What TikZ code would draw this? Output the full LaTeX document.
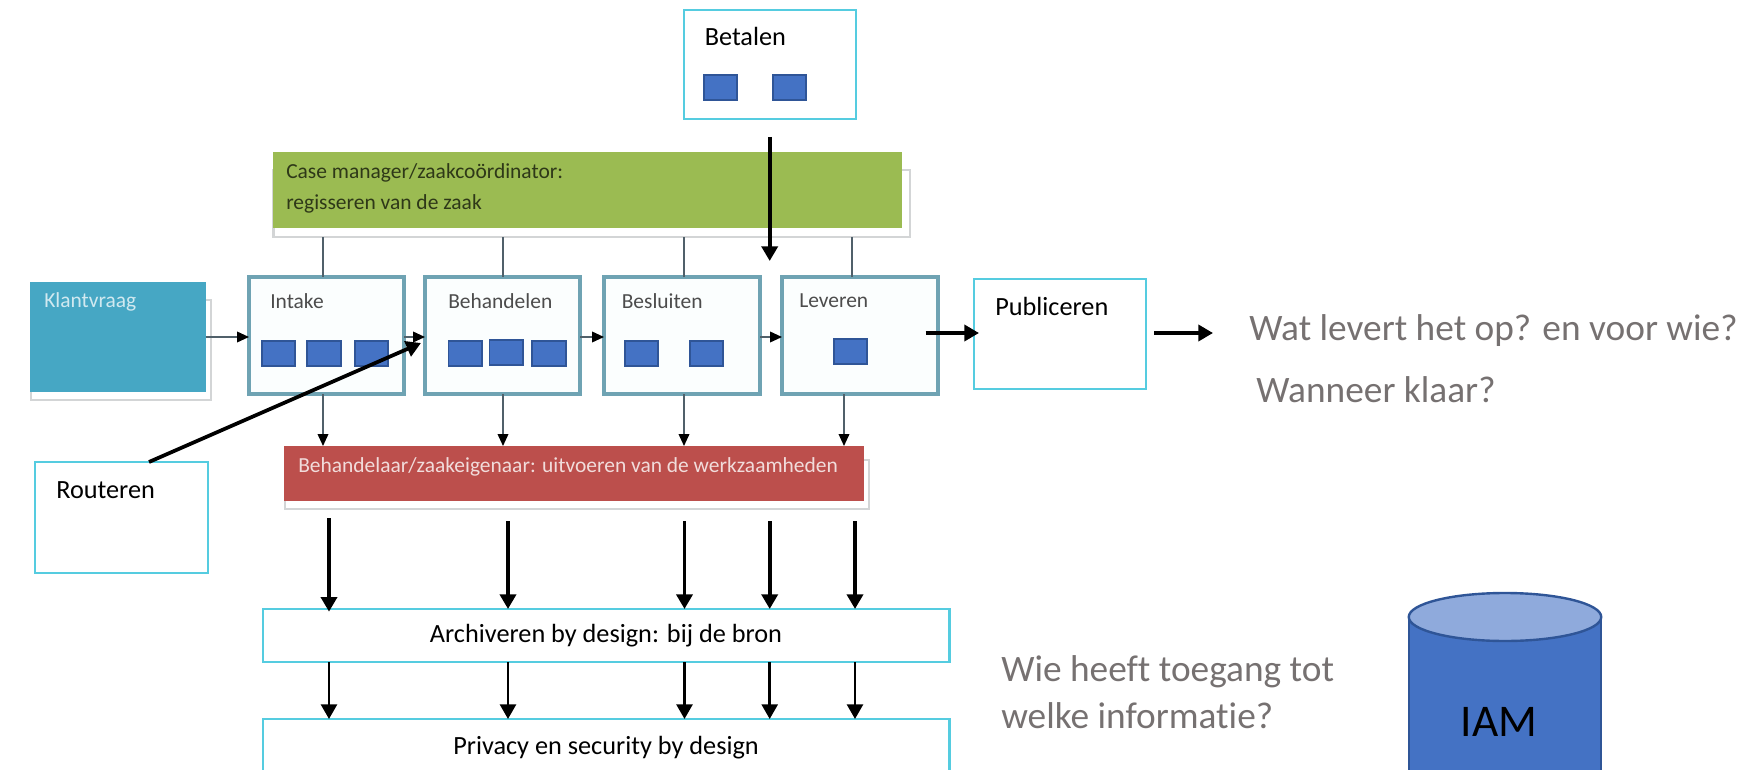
\documentclass[tikz,border=0pt]{standalone}
\usepackage{fontspec}
\setmainfont{Carlito}[Ligatures=NoCommon]
\usetikzlibrary{arrows.meta,fit}
\definecolor{cyanline}{HTML}{55CCE0}
\definecolor{sqblue}{HTML}{4472C4}
\definecolor{sqline}{HTML}{2F5597}
\definecolor{teal}{HTML}{6FA3B3}
\definecolor{paleblue}{HTML}{FBFEFE}
\definecolor{klant}{HTML}{46A7C4}
\definecolor{grn}{HTML}{9BBB52}
\definecolor{redb}{HTML}{BC4F4C}
\definecolor{shadowgr}{HTML}{D3D5D6}
\definecolor{greytext}{HTML}{767171}
\definecolor{thinline}{HTML}{50606A}
\tikzset{
  rect/.style={inner sep=0pt,outer sep=0pt,fit={#1}},
  cyanbox/.style={draw=cyanline,line width=2.2pt,fill=white},
  stepbox/.style={draw=teal,line width=2.6pt,fill=paleblue},
  sq/.style={draw=sqline,line width=0.9pt,fill=sqblue},
  shade/.style={draw=shadowgr,line width=2.2pt,fill=white},
  lab/.style={anchor=west,inner sep=0pt,font=\fontsize{19.7pt}{22pt}\selectfont},
  midlab/.style={inner sep=0pt,font=\fontsize{19.7pt}{22pt}\selectfont},
  imglab/.style={anchor=west,inner sep=0pt,font=\fontsize{16.1pt}{18pt}\selectfont,text=#1},
  big/.style={anchor=west,inner sep=0pt,text=greytext,font=\fontsize{28pt}{30pt}\selectfont},
  thinc/.style={draw=thinline,line width=1.2pt},
  thina/.style={draw=thinline,line width=1.2pt,-{Triangle[length=9pt,width=8pt,fill=black,color=black]}},
  heavy/.style={draw=black,line width=2.8pt,-{Triangle[length=11pt,width=12pt]}},
  heavyb/.style={draw=black,line width=2pt,-{Triangle[length=11pt,width=12pt]}}
}
\begin{document}
\begin{tikzpicture}[x=0.75pt,y=-0.75pt]
\useasboundingbox (0,0) rectangle (1745,770);
\clip (0,0) rectangle (1745,770);
% column coordinates
\coordinate (g1) at (323,0); \coordinate (g2) at (503,0); \coordinate (g3) at (684,0); \coordinate (g4) at (852,0); \coordinate (g5) at (844,0);
\coordinate (k1) at (329,0); \coordinate (k2) at (508,0); \coordinate (k3) at (684.5,0); \coordinate (k4) at (769.7,0); \coordinate (k5) at (855,0);
\coordinate (row) at (0,337);
\coordinate (row2) at (0,333);
% pasted-image boxes with their soft shadows
\node[shade,rect={(31,300) (211,400)}] (klantS) {};
\node[fill=klant,rect={(30,282) (205.5,392)}] (klant) {};
\node[shade,rect={(273.5,170) (910,237)}] (greenS) {};
\node[fill=grn,rect={(272.5,152) (902,228)}] (green) {};
\node[shade,rect={(285,460) (869,509)}] (redS) {};
\node[fill=redb,rect={(284,446) (864,501)}] (red) {};
\node[stepbox,rect={(249,277) (404,394)}] (intake) {};
\node[stepbox,rect={(425,277) (580,394)}] (behandelen) {};
\node[stepbox,rect={(604,277) (760,394)}] (besluiten) {};
\node[stepbox,rect={(782,277) (938,394)}] (leveren) {};
% overlay boxes
\node[cyanbox,rect={(684,10) (856,119)}] (betalen) {};
\node[cyanbox,rect={(974,279) (1146,389)}] (publiceren) {};
\node[cyanbox,rect={(35,462) (208,573)}] (routeren) {};
\node[cyanbox,rect={(263,609) (949.5,662)}] (archiveren) {};
\node[cyanbox,rect={(263,719) (949.5,771)}] (privacy) {};
\node[midlab] (ta) at (606,636) {Archiveren by design: bij de bron};
\node[midlab] (tpr) at (606,748) {Privacy en security by design};
% small squares
\node[sq,rect={(704,75) (737,100)}] (b1) {};
\node[sq,rect={(773,75) (806,100)}] (b2) {};
\node[sq,rect={(262,341) (295,366)}] (i1) {};
\node[sq,rect={(307,341) (341,366)}] (i2) {};
\node[sq,rect={(355,341) (388,366)}] (i3) {};
\node[sq,rect={(448.5,341) (482,366)}] (h1) {};
\node[sq,rect={(489.5,340) (523,365)}] (h2) {};
\node[sq,rect={(532,341) (566,366)}] (h3) {};
\node[sq,rect={(625,341) (658,366)}] (s1) {};
\node[sq,rect={(690,341) (723,366)}] (s2) {};
\node[sq,rect={(834,339) (867,364)}] (l1) {};
% labels
\node[lab] (tb) at (704.5,36) {Betalen};
\node[lab] (tp) at (995,306) {Publiceren};
\node[lab] (tr) at (56,490) {Routeren};
\node[imglab=white!75!klant] (tk) at (44,302) {Klantvraag};
\node[imglab=black!70] (ti) at (270,301) {Intake};
\node[imglab=black!70] (th) at (448,301) {Behandelen};
\node[imglab=black!70] (ts) at (621.5,301) {Besluiten};
\node[imglab=black!70] (tl) at (799,301) {Leveren};
\node[imglab=black!70!grn] (tc1) at (286,173) {Case manager/zaakcoördinator:};
\node[imglab=black!70!grn] (tc2) at (286,204) {regisseren van de zaak};
\node[imglab=white!80!redb] (tred) at (298,467) {Behandelaar/zaakeigenaar: uitvoeren van de werkzaamheden};
\node[big] (q1) at (1249,331) {Wat levert het op? en voor wie?};
\node[big] (q2) at (1256,390) {Wanneer klaar?};
\node[big] (q3) at (1001,672) {Wie heeft toegang tot};
\node[big] (q4) at (1001,716) {welke informatie?};
% thin connectors
\foreach \c/\t in {g1/intake,g2/behandelen,g3/besluiten,g4/leveren}
  \draw[thinc] (\c |- greenS.south) -- (\c |- \t.north);
\draw[thina] (klant.east |- row) -- (intake.west |- row);
\draw[thina] (intake.east |- row) -- (behandelen.west |- row);
\draw[thina] (behandelen.east |- row) -- (besluiten.west |- row);
\draw[thina] (besluiten.east |- row) -- (leveren.west |- row);
\draw[thina] (g1 |- intake.south) -- (g1 |- red.north);
\draw[thina] (g2 |- behandelen.south) -- (g2 |- red.north);
\draw[thina] (g3 |- besluiten.south) -- (g3 |- red.north);
\draw[thina] (g5 |- leveren.south) -- (g5 |- red.north);
% heavy connectors
\coordinate (rstart) at (149,462);
\coordinate (rend) at (421,343);
\draw[heavy] (rstart) -- (rend);
\coordinate (bstart) at (769.7,137);
\coordinate (bend) at (769.7,261);
\draw[heavy] (bstart) -- (bend);
\coordinate (ps) at (925.5,333);
\draw[heavy] (ps) -- ([xshift=3.75pt]publiceren.west |- row2);
\coordinate (ps2) at (1154,333);
\coordinate (pe2) at (1213,333);
\draw[heavy] (ps2) -- (pe2);
\coordinate (a1) at (329,518);
\draw[heavy] (a1) -- ([yshift=-2pt]k1 |- archiveren.north);
\foreach \c in {k2,k3,k4,k5} {
  \coordinate (tmp) at (\c |- 0,521);
  \draw[heavy] (tmp) -- (\c |- archiveren.north);
}
\foreach \c in {k1,k2,k3,k4,k5}
  \draw[heavyb] (\c |- archiveren.south) -- (\c |- privacy.north);
% cylinder
\path[fill=sqblue,draw=sqline,line width=1.5pt] (1408.5,617) -- (1408.5,780) -- (1601,780) -- (1601,617) -- cycle;
\path[fill=sqblue!60!white,draw=sqline,line width=1.8pt] (1505,617) ellipse [x radius=96.25,y radius=24];
\node[font=\fontsize{34pt}{36pt}\selectfont,inner sep=0pt] (iam) at (1499,722) {IAM};
\end{tikzpicture}
\end{document}
